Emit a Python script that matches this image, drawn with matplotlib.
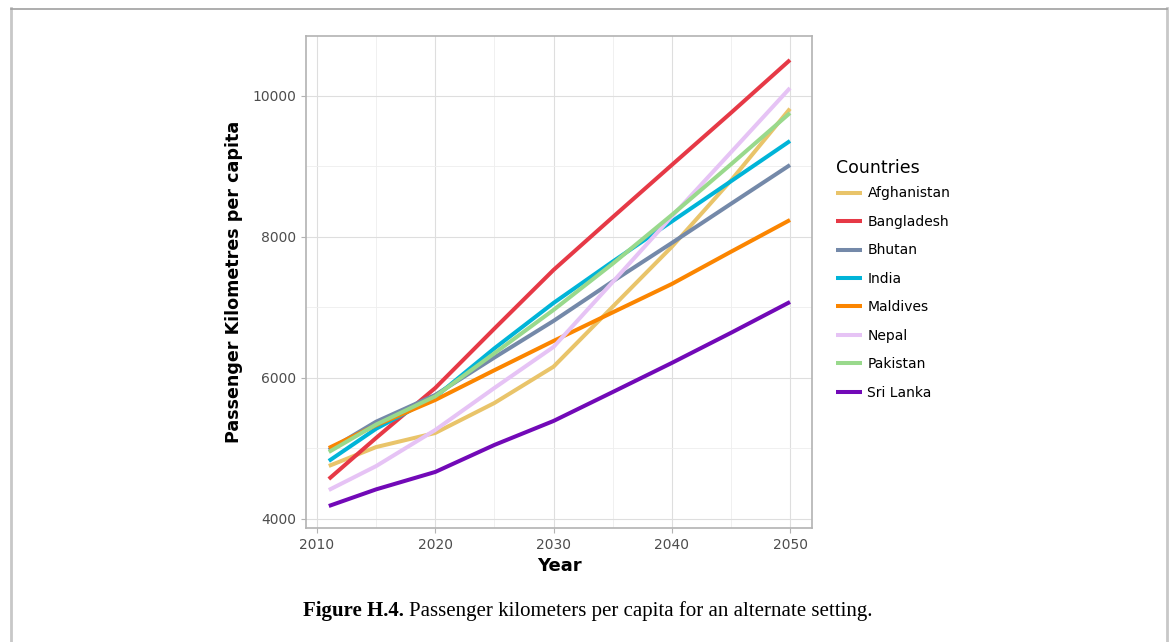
import matplotlib.pyplot as plt
from matplotlib.lines import Line2D

# Projected passenger kilometres per capita by country
years = [2011, 2015, 2020, 2025, 2030, 2035, 2040, 2045, 2050]

afghanistan = [4752, 5020, 5220, 5645, 6160, 7010, 7860, 8800, 9820]
bangladesh = [4567, 5150, 5858, 6700, 7532, 8280, 9021, 9760, 10511]
bhutan = [4979, 5380, 5759, 6290, 6809, 7370, 7915, 8470, 9021]
india = [4823, 5280, 5730, 6420, 7064, 7650, 8220, 8790, 9362]
maldives = [5007, 5330, 5688, 6110, 6525, 6930, 7333, 7790, 8241]
nepal = [4411, 4750, 5262, 5858, 6440, 7360, 8290, 9200, 10113]
pakistan = [4950, 5340, 5740, 6350, 6965, 7620, 8312, 9030, 9759]
sri_lanka = [4184, 4420, 4667, 5050, 5390, 5800, 6213, 6640, 7078]

countries = ["Afghanistan", "Bangladesh", "Bhutan", "India",
             "Maldives", "Nepal", "Pakistan", "Sri Lanka"]
series = [afghanistan, bangladesh, bhutan, india,
          maldives, nepal, pakistan, sri_lanka]
colors = ["#E9C46A", "#E63946", "#7489A9", "#00B4D8",
          "#FB8500", "#E6C3F5", "#99D98C", "#7209B7"]

W, H = 1173, 642
fig = plt.figure(figsize=(W / 100, H / 100), dpi=100)
ax = fig.add_axes([306 / W, 1 - 528 / H, 506 / W, 492 / H])

for name, vals, col in zip(countries, series, colors):
    ax.plot(years, vals, color=col, lw=2.9, label=name, solid_capstyle="butt")

ax.set_xlim(2009.07, 2051.86)
ax.set_ylim(3872, 10851)
ax.set_xticks([2010, 2020, 2030, 2040, 2050])
ax.set_yticks([4000, 6000, 8000, 10000])
ax.set_xticks([2015, 2025, 2035, 2045], minor=True)
ax.set_yticks([5000, 7000, 9000], minor=True)
ax.grid(True, which="major", color="#dedede", lw=0.8)
ax.grid(True, which="minor", color="#eeeeee", lw=0.6)
ax.set_axisbelow(True)
for s in ax.spines.values():
    s.set_color("#b3b3b3")
    s.set_linewidth(1.2)
ax.tick_params(which="major", length=3.5, color="#b3b3b3",
               labelsize=10, labelcolor="#4d4d4d")
ax.tick_params(which="minor", length=0)

ax.set_xlabel("Year", fontsize=13, fontweight="bold", labelpad=4)
ax.set_ylabel("Passenger Kilometres per capita", fontsize=12.6,
              fontweight="bold", labelpad=7)

# legend title placed separately so the row spacing stays even
fig.text(836 / W, 1 - 168 / H, "Countries", ha="left", va="center", fontsize=12.5)
ax.legend(loc="upper left", bbox_to_anchor=(823 / W, 1 - 174 / H),
          bbox_transform=fig.transFigure, frameon=False,
          fontsize=10, handlelength=1.9, handletextpad=0.4,
          labelspacing=1.04)

# caption beneath the chart: bold label, then the description right after it
cap_y = 1 - 611 / H
head = fig.text(303 / W, cap_y, "Figure H.4.", ha="left", va="center",
                fontsize=15, fontweight="bold", family="Liberation Serif")
renderer = fig.canvas.get_renderer()
x_end = head.get_window_extent(renderer).x1
fig.text((x_end + 5) / W, cap_y,
         "Passenger kilometers per capita for an alternate setting.",
         ha="left", va="center", fontsize=15, family="Liberation Serif")

# page frame around the figure
fig.add_artist(Line2D([10.5 / W, 10.5 / W], [0, 1 - 8 / H],
                      transform=fig.transFigure, color="#c8c8c8", lw=2))
fig.add_artist(Line2D([1166.5 / W, 1166.5 / W], [0, 1 - 8 / H],
                      transform=fig.transFigure, color="#c8c8c8", lw=2))
fig.add_artist(Line2D([10.5 / W, 1166.5 / W], [1 - 8.5 / H, 1 - 8.5 / H],
                      transform=fig.transFigure, color="#a0a0a0", lw=1.2))

fig.savefig("out.png", dpi=100)
